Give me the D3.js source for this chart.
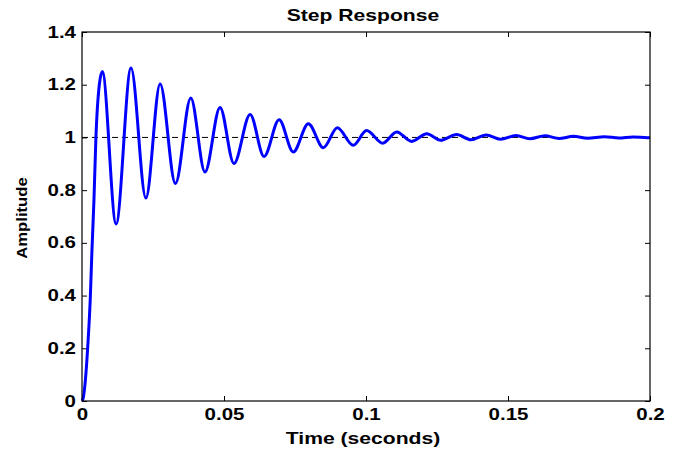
<!DOCTYPE html>
<html>
<head>
<meta charset="utf-8">
<script src="https://cdn.jsdelivr.net/npm/d3@7"></script>
<style>
  body { margin: 0; background: #fff; }
  svg { display: block; }
  text { font-family: "Liberation Sans", Arial, sans-serif; font-weight: bold; fill: #000; }
</style>
</head>
<body>
<div id="chart"></div>
<script>
// step response samples (time in s, amplitude)
const time = [0, 0.0004, 0.0012, 0.0021, 0.0029, 0.0035, 0.0042, 0.0049, 0.0061, 0.00715,
  0.0120, 0.01725, 0.0225, 0.0275, 0.0329, 0.0383, 0.0433, 0.0486, 0.0535, 0.0592,
  0.0641, 0.0694, 0.0744, 0.0797, 0.0850, 0.0899, 0.0955, 0.1002, 0.1059, 0.1108,
  0.1161, 0.1214, 0.1263, 0.1319, 0.1369, 0.1423, 0.1474, 0.1528, 0.1577, 0.1630,
  0.1680, 0.1730, 0.1780, 0.1840, 0.1890, 0.1940, 0.1990, 0.2];
const amplitude = [0, 0.01, 0.08, 0.22, 0.385, 0.57, 0.76, 1.0, 1.2, 1.25,
  0.672, 1.263, 0.770, 1.203, 0.825, 1.150, 0.869, 1.114, 0.901, 1.087,
  0.928, 1.067, 0.945, 1.052, 0.961, 1.037, 0.970, 1.026, 0.978, 1.021,
  0.985, 1.014, 0.989, 1.011, 0.991, 1.009, 0.993, 1.007, 0.995, 1.006,
  0.996, 1.004, 0.997, 1.003, 0.998, 1.002, 0.999, 1.0];
const steadyState = 1;

const xTicks = [0, 0.05, 0.1, 0.15, 0.2];
const yTicks = [0, 0.2, 0.4, 0.6, 0.8, 1, 1.2, 1.4];

const w = 689, h = 452;
const margin = {top: 32, right: 39, bottom: 51, left: 82};

const svg = d3.select("#chart")
  .append("svg")
    .attr("width", w)
    .attr("height", h);

const x = d3.scaleLinear()
    .domain([0, 0.2])
    .range([margin.left, w - margin.right]);

const y = d3.scaleLinear()
    .domain([0, 1.4])
    .range([h - margin.bottom, margin.top]);

const fmt = d3.format("~g");

// axes with inward ticks on all four sides
const gLeft = svg.append("g")
    .attr("transform", `translate(${margin.left},0)`)
    .call(d3.axisLeft(y).tickValues(yTicks).tickFormat(fmt).tickSizeInner(-5).tickSizeOuter(0).tickPadding(6));
const gBottom = svg.append("g")
    .attr("transform", `translate(0,${h - margin.bottom})`)
    .call(d3.axisBottom(x).tickValues(xTicks).tickFormat(fmt).tickSizeInner(-5).tickSizeOuter(0).tickPadding(8));
const gRight = svg.append("g")
    .attr("transform", `translate(${w - margin.right},0)`)
    .call(d3.axisRight(y).tickValues(yTicks).tickFormat("").tickSizeInner(-5).tickSizeOuter(0));
const gTop = svg.append("g")
    .attr("transform", `translate(0,${margin.top})`)
    .call(d3.axisTop(x).tickValues(xTicks).tickFormat("").tickSizeInner(-5).tickSizeOuter(0));

[gLeft, gBottom, gRight, gTop].forEach(g => {
  g.select(".domain").remove();
  g.selectAll("line").attr("stroke", "#000");
  g.selectAll("text")
    .style("font-family", '"Liberation Sans", Arial, sans-serif')
    .style("font-weight", "bold")
    .style("font-size", "16px");
});

// stretch tick labels sideways like the original
gLeft.selectAll("text")
    .attr("transform", function() { return `translate(${d3.select(this).attr("x")},0) scale(1.28,1)`; })
    .attr("x", 0);
gBottom.selectAll("text")
    .attr("transform", "scale(1.28,1)");

// dashed steady state line
svg.append("line")
    .attr("x1", x(0))
    .attr("x2", x(0.2))
    .attr("y1", y(steadyState))
    .attr("y2", y(steadyState))
    .attr("stroke", "#000")
    .attr("stroke-width", 1)
    .attr("stroke-dasharray", "6,4");

// response curve
const line = d3.line()
    .x((d, i) => x(time[i]))
    .y(d => y(d))
    .curve(d3.curveMonotoneX);

svg.append("path")
    .datum(amplitude)
    .attr("d", line)
    .attr("fill", "none")
    .attr("stroke", "#0000ff")
    .attr("stroke-width", 3)
    .attr("stroke-linejoin", "round");

// box
svg.append("rect")
    .attr("x", margin.left)
    .attr("y", margin.top)
    .attr("width", w - margin.left - margin.right)
    .attr("height", h - margin.top - margin.bottom)
    .attr("fill", "none")
    .attr("stroke", "#000")
    .attr("stroke-width", 1.2);

// labels
svg.append("text")
    .attr("text-anchor", "middle")
    .attr("transform", "translate(363,21) scale(1.28,1)")
    .style("font-size", "16.5px")
    .text("Step Response");

svg.append("text")
    .attr("text-anchor", "middle")
    .attr("transform", "translate(363,444) scale(1.28,1)")
    .style("font-size", "16.5px")
    .text("Time (seconds)");

svg.append("text")
    .attr("text-anchor", "middle")
    .attr("transform", "translate(27,218) rotate(-90) scale(1.15,1)")
    .style("font-size", "14.5px")
    .text("Amplitude");
</script>
</body>
</html>
